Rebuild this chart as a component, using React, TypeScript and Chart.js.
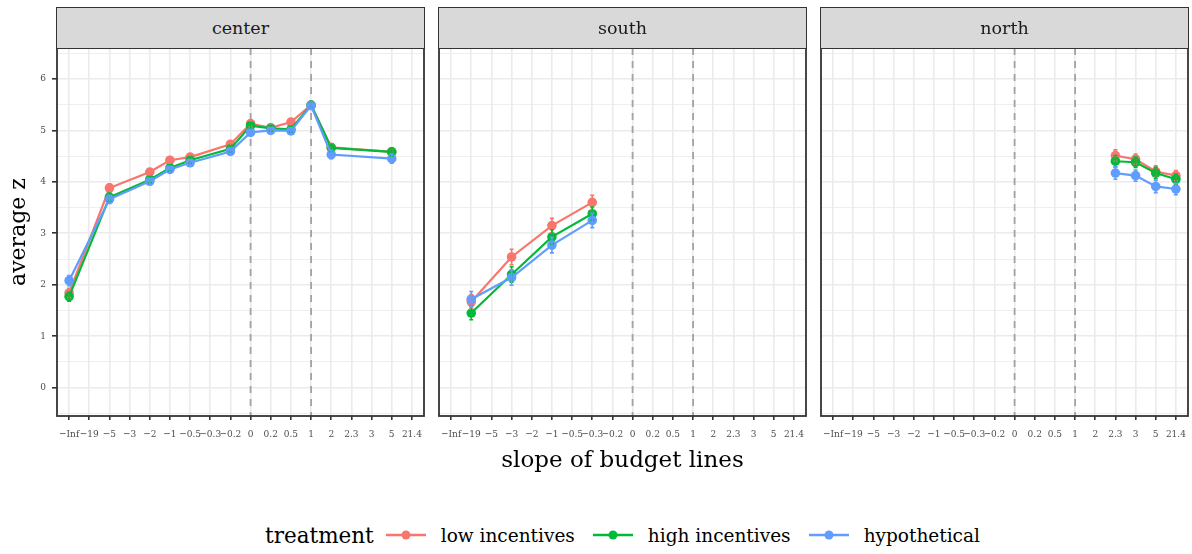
import React, { useEffect, useRef } from 'react';
import { Chart, registerables } from 'chart.js';

Chart.register(...registerables);

// ---------- data ----------
const xLabels = ['−Inf', '−19', '−5', '−3', '−2', '−1', '−0.5', '−0.3', '−0.2', '0', '0.2', '0.5', '1', '2', '2.3', '3', '5', '21.4'];
const refLines = ['0', '1'];
const facetNames = ['center', 'south', 'north'];
const seriesNames = ['low incentives', 'high incentives', 'hypothetical'];
const seriesColors = ['#F8766D', '#00BA38', '#619CFF'];
const yTickValues = [-0.5, 0, 0.5, 1, 1.5, 2, 2.5, 3, 3.5, 4, 4.5, 5, 5.5, 6, 6.5];

const centerSlopes = ['−Inf', '−5', '−2', '−1', '−0.5', '−0.2', '0', '0.2', '0.5', '1', '2', '5'];
const centerLow = [1.84, 3.88, 4.19, 4.42, 4.48, 4.73, 5.13, 5.05, 5.16, 5.49, 4.67, 4.58];
const centerHigh = [1.77, 3.70, 4.04, 4.27, 4.42, 4.64, 5.09, 5.04, 5.02, 5.49, 4.66, 4.58];
const centerHyp = [2.08, 3.66, 4.01, 4.24, 4.37, 4.59, 4.96, 5.00, 4.99, 5.48, 4.53, 4.45];
const centerLowErr = [0.09, 0.08, 0.06, 0.06, 0.06, 0.06, 0.06, 0.05, 0.06, 0.05, 0.07, 0.08];
const centerHighErr = [0.09, 0.08, 0.06, 0.06, 0.06, 0.06, 0.06, 0.05, 0.06, 0.05, 0.07, 0.08];
const centerHypErr = [0.10, 0.08, 0.06, 0.06, 0.06, 0.06, 0.06, 0.05, 0.06, 0.05, 0.08, 0.09];

const southSlopes = ['−19', '−3', '−1', '−0.3'];
const southLow = [1.67, 2.54, 3.15, 3.60];
const southHigh = [1.45, 2.20, 2.93, 3.38];
const southHyp = [1.72, 2.14, 2.77, 3.25];
const southLowErr = [0.14, 0.15, 0.14, 0.14];
const southHighErr = [0.13, 0.15, 0.14, 0.13];
const southHypErr = [0.15, 0.15, 0.15, 0.14];

const northSlopes = ['2.3', '3', '5', '21.4'];
const northLow = [4.51, 4.44, 4.20, 4.12];
const northHigh = [4.40, 4.38, 4.17, 4.05];
const northHyp = [4.17, 4.12, 3.91, 3.86];
const northLowErr = [0.11, 0.10, 0.11, 0.10];
const northHighErr = [0.11, 0.10, 0.11, 0.10];
const northHypErr = [0.12, 0.11, 0.12, 0.11];

const facetData = [
  { slopes: centerSlopes, values: [centerLow, centerHigh, centerHyp], errors: [centerLowErr, centerHighErr, centerHypErr] },
  { slopes: southSlopes, values: [southLow, southHigh, southHyp], errors: [southLowErr, southHighErr, southHypErr] },
  { slopes: northSlopes, values: [northLow, northHigh, northHyp], errors: [northLowErr, northHighErr, northHypErr] },
];

// ---------- layout ----------
const SERIF = "'DejaVu Serif', 'Liberation Serif', serif";
const TICK_FONT = "'DejaVu Serif Condensed', 'DejaVu Serif', serif";
const panelLefts = [57, 439, 821];
const PANEL_W = 367;
const PANEL_TOP = 48;
const PANEL_H = 368;
const TOP_PAD = 20;
const RIGHT_PAD = 12;
const X_AXIS_H = 34;

const panelPlugin = {
  id: 'panelDecor',
  beforeDatasetsDraw(chart: any) {
    const { ctx, chartArea, scales } = chart;
    ctx.save();
    ctx.beginPath();
    ctx.rect(chartArea.left, chartArea.top, chartArea.right - chartArea.left, chartArea.bottom - chartArea.top);
    ctx.clip();
    ctx.strokeStyle = '#A3A3A3';
    ctx.lineWidth = 1.8;
    ctx.setLineDash([7, 6]);
    refLines.forEach((r) => {
      const px = scales.x.getPixelForValue(xLabels.indexOf(r) + 1);
      ctx.beginPath();
      ctx.moveTo(px, chartArea.top);
      ctx.lineTo(px, chartArea.bottom);
      ctx.stroke();
    });
    ctx.restore();
  },
  afterDatasetsDraw(chart: any) {
    const { ctx, scales } = chart;
    const errs = chart.options.plugins.panelDecor.errors;
    const slopes = chart.options.plugins.panelDecor.slopes;
    ctx.save();
    ctx.lineWidth = 1.6;
    [0, 1, 2].forEach((s) => {
      const ds = chart.data.datasets[s];
      ctx.strokeStyle = seriesColors[s];
      ds.data.forEach((pt: any, i: number) => {
        const e = errs[s][i];
        const px = scales.x.getPixelForValue(xLabels.indexOf(slopes[i]) + 1);
        const y1 = scales.y.getPixelForValue(pt.y - e);
        const y2 = scales.y.getPixelForValue(pt.y + e);
        ctx.beginPath();
        ctx.moveTo(px, y1);
        ctx.lineTo(px, y2);
        ctx.moveTo(px - 2, y1);
        ctx.lineTo(px + 2, y1);
        ctx.moveTo(px - 2, y2);
        ctx.lineTo(px + 2, y2);
        ctx.stroke();
      });
    });
    ctx.restore();
  },
  afterDraw(chart: any) {
    const { ctx, chartArea } = chart;
    ctx.save();
    ctx.strokeStyle = '#333333';
    ctx.lineWidth = 1.8;
    ctx.strokeRect(chartArea.left, chartArea.top, chartArea.right - chartArea.left, chartArea.bottom - chartArea.top);
    ctx.restore();
  },
};

function Panel({ idx }: { idx: number }) {
  const ref = useRef<HTMLCanvasElement>(null);
  const isFirst = idx === 0;
  const leftW = isFirst ? panelLefts[0] : 10;
  const canvasLeft = panelLefts[idx] - leftW;
  const canvasW = leftW + PANEL_W + RIGHT_PAD;
  const canvasH = TOP_PAD + PANEL_H + X_AXIS_H;

  useEffect(() => {
    const fd = facetData[idx];
    const datasets = seriesNames.map((name, s) => ({
      label: name,
      data: fd.slopes.map((c, i) => ({ x: xLabels.indexOf(c) + 1, y: fd.values[s][i] })),
      borderColor: seriesColors[s],
      backgroundColor: seriesColors[s],
      borderWidth: 2.2,
      pointRadius: 4.8,
      pointBorderWidth: 0,
      pointHoverRadius: 4.8,
      tension: 0,
      order: 2 - s,
    }));
    const chart = new Chart(ref.current as HTMLCanvasElement, {
      type: 'line',
      data: { datasets },
      plugins: [panelPlugin],
      options: {
        animation: false,
        responsive: false,
        maintainAspectRatio: false,
        layout: { padding: { top: TOP_PAD, right: RIGHT_PAD, left: 0, bottom: 0 } },
        plugins: {
          legend: { display: false },
          tooltip: { enabled: false },
          panelDecor: { errors: fd.errors, slopes: fd.slopes },
        } as any,
        scales: {
          x: {
            type: 'linear',
            min: 0.4,
            max: 18.6,
            afterBuildTicks: (ax: any) => {
              ax.ticks = xLabels.map((_, i) => ({ value: i + 1 }));
            },
            afterFit: (ax: any) => {
              ax.height = X_AXIS_H;
            },
            ticks: {
              autoSkip: false,
              maxRotation: 0,
              minRotation: 0,
              padding: 8,
              color: '#4D4D4D',
              font: { family: TICK_FONT, size: 10 },
              callback: (_v: any, i: number) => xLabels[i],
            },
            grid: {
              color: '#EBEBEB',
              lineWidth: 1.6,
              tickColor: '#333333',
              tickLength: 4,
              tickWidth: 1.6,
            },
            border: { display: false },
          },
          y: {
            type: 'linear',
            min: -0.55,
            max: 6.6,
            afterBuildTicks: (ax: any) => {
              ax.ticks = yTickValues.map((v) => ({ value: v }));
            },
            afterFit: (ax: any) => {
              ax.width = leftW;
            },
            ticks: {
              display: isFirst,
              padding: 6,
              color: '#4D4D4D',
              font: { family: TICK_FONT, size: 10 },
              callback: (v: any) => (Number.isInteger(v) ? String(v) : ''),
            },
            grid: {
              color: '#EBEBEB',
              lineWidth: (c: any) => (c.tick && Number.isInteger(c.tick.value) ? 1.6 : 0.8),
              tickColor: (c: any) => (isFirst && c.tick && Number.isInteger(c.tick.value) ? '#333333' : 'rgba(0,0,0,0)'),
              tickLength: 5,
              tickWidth: 1.6,
              drawTicks: isFirst,
            },
            border: { display: false },
          },
        },
      } as any,
    });
    return () => chart.destroy();
  }, [idx]);

  return (
    <canvas
      ref={ref}
      width={canvasW}
      height={canvasH}
      style={{ position: 'absolute', left: canvasLeft, top: PANEL_TOP - TOP_PAD, width: canvasW, height: canvasH }}
    />
  );
}

export default function App() {
  return (
    <div
      style={{
        position: 'fixed',
        left: 0,
        top: 0,
        width: 1192,
        height: 554,
        background: '#ffffff',
        overflow: 'hidden',
        fontFamily: SERIF,
        color: '#000',
      }}
    >
      {facetNames.map((f, i) => (
        <Panel key={f} idx={i} />
      ))}
      {facetNames.map((f, i) => (
        <div
          key={'strip-' + f}
          style={{
            position: 'absolute',
            left: panelLefts[i] - 1,
            top: 7,
            width: PANEL_W + 2,
            height: 42,
            boxSizing: 'border-box',
            background: '#D9D9D9',
            border: '1.8px solid #333333',
            display: 'flex',
            alignItems: 'center',
            justifyContent: 'center',
            fontSize: 17.5,
            color: '#1A1A1A',
          }}
        >
          {f}
        </div>
      ))}
      <div
        style={{
          position: 'absolute',
          left: panelLefts[0],
          width: panelLefts[2] + PANEL_W - panelLefts[0],
          top: 444,
          height: 30,
          textAlign: 'center',
          fontSize: 23,
          lineHeight: '30px',
        }}
      >
        slope of budget lines
      </div>
      <div
        style={{
          position: 'absolute',
          left: 18 - 100,
          top: 232 - 15,
          width: 200,
          height: 30,
          lineHeight: '30px',
          textAlign: 'center',
          fontSize: 22,
          transform: 'rotate(-90deg)',
        }}
      >
        average z
      </div>
      <div
        style={{
          position: 'absolute',
          left: panelLefts[0],
          width: panelLefts[2] + PANEL_W - panelLefts[0],
          top: 518,
          height: 34,
          display: 'flex',
          alignItems: 'center',
          justifyContent: 'center',
        }}
      >
        <span style={{ fontSize: 21.5, marginRight: 12 }}>treatment</span>
        {seriesNames.map((n, s) => (
          <span key={n} style={{ display: 'flex', alignItems: 'center' }}>
            <svg width={40} height={20} style={{ display: 'block' }}>
              <line x1={0} y1={10} x2={40} y2={10} stroke={seriesColors[s]} strokeWidth={2.5} />
              <circle cx={20} cy={10} r={4.5} fill={seriesColors[s]} />
            </svg>
            <span style={{ fontSize: 18.5, marginLeft: 15, marginRight: s < 2 ? 18 : 0 }}>{n}</span>
          </span>
        ))}
      </div>
    </div>
  );
}
